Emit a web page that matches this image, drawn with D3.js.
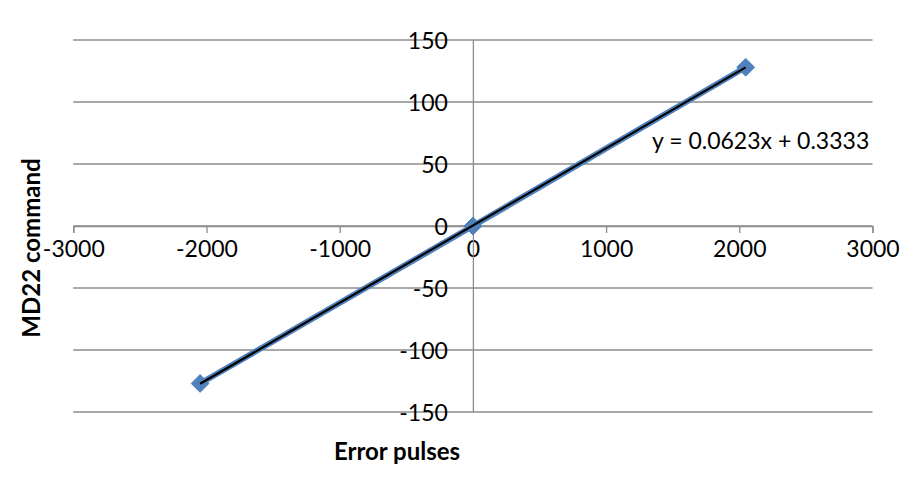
<!DOCTYPE html>
<html><head><meta charset="utf-8">
<script src="https://cdn.jsdelivr.net/npm/d3@7"></script>
<style>body{margin:0;background:#fff}svg{display:block}text{font-family:Lato,"Open Sans",sans-serif}</style>
</head><body><svg id="c" width="911" height="484"></svg>
<script>
const xTicks = [-3000,-2000,-1000,0,1000,2000,3000];
const yTicks = [-150,-100,-50,0,50,100,150];
const xValues = [-2048, 0, 2048];
const yValues = [-127, 0, 128];
const trendSlope = 0.0623, trendIntercept = 0.3333;
const trendLabel = "y = 0.0623x + 0.3333";
const xTitle = "Error pulses", yTitle = "MD22 command";

const svg = d3.select("#c");
const x = d3.scaleLinear().domain([-3000,3000]).range([73.3,872.5]);
const y = d3.scaleLinear().domain([-150,150]).range([412,40]);
const grid = "#8c8c8c";
const fmt = d => String(d);

svg.append("g").selectAll("line").data(yTicks).join("line")
  .attr("x1",x(-3000)).attr("x2",x(3000)).attr("y1",d=>y(d)).attr("y2",d=>y(d))
  .attr("stroke",grid).attr("stroke-width",1.3);

const xa = svg.append("g").attr("transform",`translate(0,${y(0)})`)
  .call(d3.axisBottom(x).tickValues(xTicks).tickSize(7).tickPadding(8).tickFormat(fmt));
xa.select(".domain").attr("stroke",grid).attr("stroke-width",1.3);
xa.selectAll(".tick line").attr("stroke",grid).attr("stroke-width",1.3);
xa.selectAll("text").attr("font-size",23).attr("fill","#000").attr("font-family","Lato");

const ya = svg.append("g").attr("transform",`translate(${x(0)},0)`)
  .call(d3.axisLeft(y).tickValues(yTicks).tickSize(0).tickPadding(25).tickFormat(fmt));
ya.select(".domain").attr("stroke",grid).attr("stroke-width",1.3);
ya.selectAll("text").attr("font-size",23).attr("fill","#000").attr("font-family","Lato").attr("dy","0.35em");

const pts = xValues.map((v,i)=>[v,yValues[i]]);
svg.append("path").datum(pts)
  .attr("d",d3.line().x(d=>x(d[0])).y(d=>y(d[1])))
  .attr("fill","none").attr("stroke","#4f81bd").attr("stroke-width",6);
svg.append("g").selectAll("path").data(pts).join("path")
  .attr("d",d3.symbol().type(d3.symbolDiamond2).size(200))
  .attr("transform",d=>`translate(${x(d[0])},${y(d[1])})`)
  .attr("fill","#4f81bd").attr("stroke","#4a7ebb").attr("stroke-width",1);
const tx = [xValues[0], xValues[xValues.length-1]];
svg.append("line")
  .attr("x1",x(tx[0])).attr("y1",y(trendSlope*tx[0]+trendIntercept))
  .attr("x2",x(tx[1])).attr("y2",y(trendSlope*tx[1]+trendIntercept))
  .attr("stroke","#000").attr("stroke-width",2.2);

svg.append("text").attr("x",652).attr("y",149).attr("font-size",23).attr("fill","#000").text(trendLabel);

svg.append("text").attr("x",397).attr("y",460).attr("text-anchor","middle")
  .attr("font-size",24).attr("font-weight","bold").attr("fill","#000").text(xTitle);
svg.append("text").attr("transform","translate(40,248) rotate(-90)").attr("text-anchor","middle")
  .attr("font-size",24).attr("font-weight","bold").attr("fill","#000").text(yTitle);
</script></body></html>
